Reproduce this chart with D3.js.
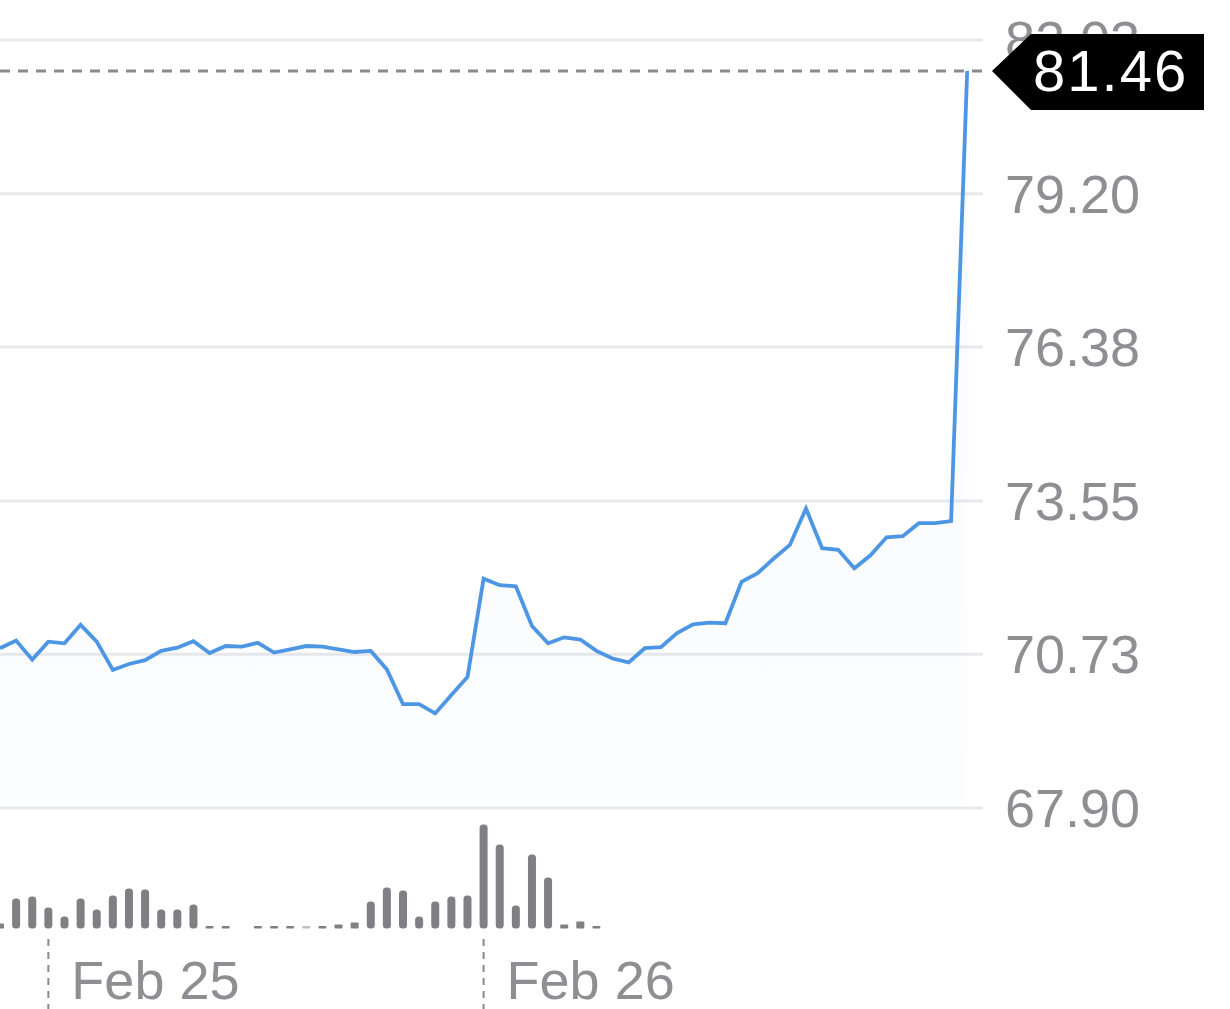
<!DOCTYPE html>
<html>
<head>
<meta charset="utf-8">
<script src="https://cdn.jsdelivr.net/npm/d3@7"></script>
<style>
  html, body { margin: 0; padding: 0; background: #ffffff; }
  svg { display: block; }
</style>
</head>
<body>
<svg id="chart" width="1230" height="1009"></svg>
<script>
// ---- DATA ----
const priceValues = [
  70.84, 70.98, 70.63, 70.96, 70.93, 71.27, 70.96, 70.44, 70.55, 70.62,
  70.79, 70.85, 70.97, 70.75, 70.88, 70.87, 70.94, 70.76, 70.82, 70.88,
  70.87, 70.82, 70.77, 70.79, 70.45, 69.81, 69.81, 69.64, 69.98, 70.31,
  72.12, 72.00, 71.98, 71.25, 70.93, 71.04, 71.00, 70.79, 70.65, 70.58,
  70.84, 70.86, 71.12, 71.28, 71.31, 71.30, 72.06, 72.22, 72.49, 72.74,
  73.41, 72.68, 72.65, 72.31, 72.55, 72.88, 72.90, 73.14, 73.14, 73.18,
  81.46
];
const volumeValues = [
  5, 30, 32, 21, 12, 30, 19, 33, 40, 39,
  19, 19, 24, 2, 2, 0, 2, 2, 1, 0.6,
  1, 4, 6, 27, 41, 38, 12, 27, 32, 33,
  104, 84, 23, 74, 51, 4, 7, 1
];
const yTickValues = [67.90, 70.73, 73.55, 76.38, 79.20, 82.03];
const xTickIndex = [3, 30];
const xTickLabels = ["Feb 25", "Feb 26"];
const lastPrice = 81.46;

// ---- LAYOUT ----
const svg = d3.select("#chart");
const plotRight = 983;
const x = d3.scaleLinear().domain([0, 60]).range([0, 967.2]);
const y = d3.scaleLinear().domain([67.90, 82.03]).range([808, 40]);
const volBase = 928.5;
const vy = d3.scaleLinear().domain([0, 104]).range([volBase, volBase - 104]);

const gray = "#8e8e93";
const fontFam = "'Liberation Sans', Arial, Helvetica, sans-serif";

// gradient for area
const defs = svg.append("defs");
const grad = defs.append("linearGradient").attr("id", "areaGrad")
  .attr("x1", 0).attr("y1", 0).attr("x2", 0).attr("y2", 1);
grad.append("stop").attr("offset", "0%").attr("stop-color", "#4a90e2").attr("stop-opacity", 0.045);
grad.append("stop").attr("offset", "100%").attr("stop-color", "#4a90e2").attr("stop-opacity", 0.015);

// gridlines
svg.append("g").selectAll("line").data(yTickValues).join("line")
  .attr("x1", 0).attr("x2", plotRight)
  .attr("y1", d => y(d)).attr("y2", d => y(d))
  .attr("stroke", "#e9e9eb").attr("stroke-width", 3);

// area
const area = d3.area()
  .x((d, i) => x(i))
  .y0(y(67.90))
  .y1(d => y(d));
svg.append("path").datum(priceValues)
  .attr("d", area)
  .attr("fill", "url(#areaGrad)");

// line
const line = d3.line().x((d, i) => x(i)).y(d => y(d));
svg.append("path").datum(priceValues)
  .attr("d", line)
  .attr("fill", "none")
  .attr("stroke", "#4d96e4")
  .attr("stroke-width", 3.8)
  .attr("stroke-linejoin", "miter");

// dashed last-price line
svg.append("line")
  .attr("x1", 0).attr("x2", 986)
  .attr("y1", y(lastPrice)).attr("y2", y(lastPrice))
  .attr("stroke", "#8a8a8e").attr("stroke-width", 3)
  .attr("stroke-dasharray", "10,8");

// y labels
svg.append("g").selectAll("text").data(yTickValues).join("text")
  .attr("x", 1005)
  .attr("y", d => y(d) + 19)
  .attr("fill", gray)
  .attr("font-family", fontFam)
  .attr("font-size", 54)
  .text(d => d.toFixed(2));

// last price label
const ly = y(lastPrice);
svg.append("path")
  .attr("d", `M992,${ly} L1031,${ly - 37} L1204,${ly - 37} L1204,${ly + 39} L1031,${ly + 39} Z`)
  .attr("fill", "#000");
svg.append("text")
  .attr("x", 1033).attr("y", ly + 20)
  .attr("fill", "#fff")
  .attr("font-family", fontFam)
  .attr("font-size", 58)
  .attr("letter-spacing", 2)
  .text(lastPrice.toFixed(2));

// volume bars
const barW = 8;
svg.append("g").selectAll("rect").data(volumeValues).join("rect")
  .attr("x", (d, i) => x(i) - barW / 2)
  .attr("width", barW)
  .attr("y", d => d > 0 ? Math.min(vy(d), volBase - 2.5) : volBase)
  .attr("height", d => d > 0 ? Math.max(volBase - vy(d), 2.5) : 0)
  .attr("rx", d => (volBase - vy(d)) > 8 ? 3.5 : 1)
  .attr("fill", "#7f7f84")
  .attr("opacity", d => d < 1 ? 0.5 : 1);

// x ticks
const xt = svg.append("g");
xt.selectAll("line").data(xTickIndex).join("line")
  .attr("x1", d => x(d)).attr("x2", d => x(d))
  .attr("y1", 939).attr("y2", 1009)
  .attr("stroke", "#8a8a8e").attr("stroke-width", 2)
  .attr("stroke-dasharray", "7,6");
xt.selectAll("text").data(xTickIndex).join("text")
  .attr("x", d => x(d) + 23)
  .attr("y", 999)
  .attr("fill", gray)
  .attr("font-family", fontFam)
  .attr("font-size", 54)
  .text((d, i) => xTickLabels[i]);
</script>
</body>
</html>
